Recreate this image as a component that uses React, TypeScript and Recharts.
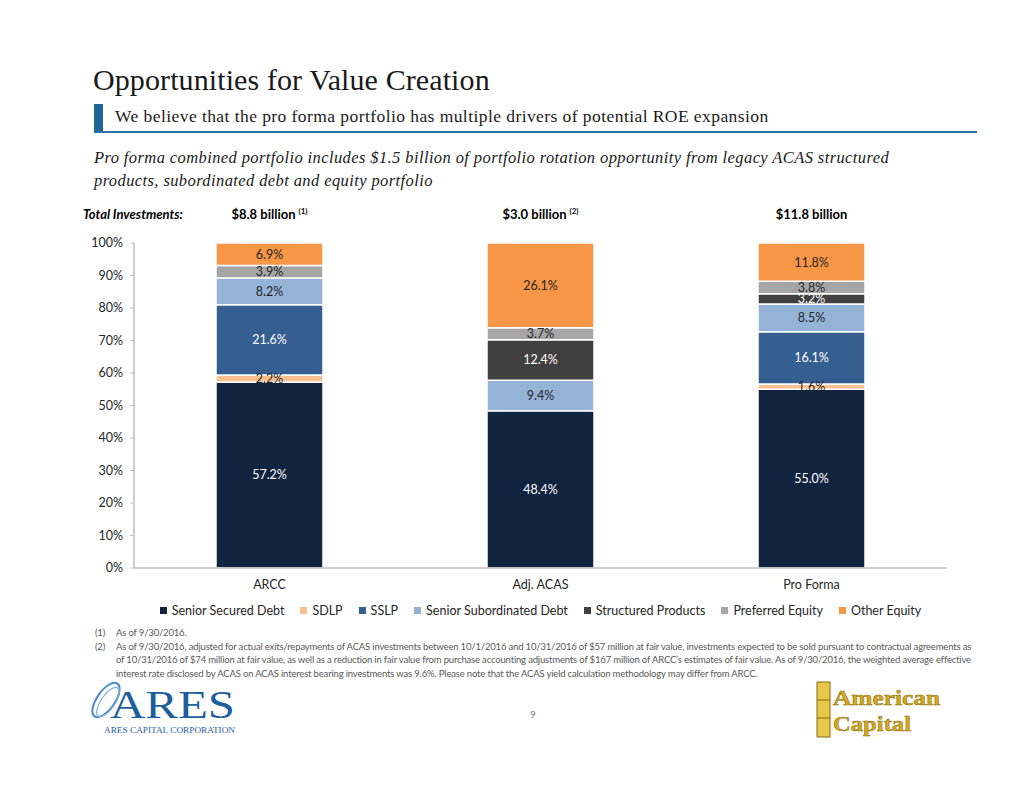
import React from 'react';
import { BarChart, Bar, XAxis, YAxis, LabelList } from 'recharts';

const categories = ['ARCC', 'Adj. ACAS', 'Pro Forma'];
const totals = ['$8.8 billion', '$3.0 billion', '$11.8 billion'];
const totalNotes = ['(1)', '(2)', ''];

const seniorSecured = [57.2, 48.4, 55.0];
const sdlp = [2.2, 0, 1.6];
const sslp = [21.6, 0, 16.1];
const seniorSub = [8.2, 9.4, 8.5];
const structured = [0, 12.4, 3.2];
const preferred = [3.9, 3.7, 3.8];
const otherEquity = [6.9, 26.1, 11.8];

const yTicks = [0, 10, 20, 30, 40, 50, 60, 70, 80, 90, 100];

const series = [
  { key: 'ssd', name: 'Senior Secured Debt', values: seniorSecured, color: '#10233F', text: '#FFFFFF' },
  { key: 'sdlp', name: 'SDLP', values: sdlp, color: '#FAC090', text: '#262626' },
  { key: 'sslp', name: 'SSLP', values: sslp, color: '#355E91', text: '#FFFFFF' },
  { key: 'ssub', name: 'Senior Subordinated Debt', values: seniorSub, color: '#95B3D7', text: '#262626' },
  { key: 'struct', name: 'Structured Products', values: structured, color: '#404040', text: '#FFFFFF' },
  { key: 'pref', name: 'Preferred Equity', values: preferred, color: '#A6A6A6', text: '#262626' },
  { key: 'other', name: 'Other Equity', values: otherEquity, color: '#F79646', text: '#262626' },
];

const data = categories.map((name, i) => {
  const row: Record<string, string | number> = { name };
  series.forEach((s) => {
    row[s.key] = s.values[i];
  });
  return row;
});

const chartFont = 'Lato, "Open Sans", sans-serif';
const serif = '"Liberation Serif", "DejaVu Serif", serif';

// plot area: x 134..947, y 243..568
const PLOT_LEFT = 134;
const PLOT_RIGHT = 947;
const bandW = (PLOT_RIGHT - PLOT_LEFT) / categories.length;

const fmt = (v: any) => (v ? `${Number(v).toFixed(1)}%` : '');

export default function App() {
  return (
    <div style={{ position: 'absolute', left: 0, top: 0, width: 1034, height: 799, background: '#fff', overflow: 'hidden' }}>
      {/* header */}
      <div style={{ position: 'absolute', left: 93, top: 63, fontFamily: serif, fontSize: 30, color: '#1a1a1a', letterSpacing: 0.1, whiteSpace: 'nowrap' }}>
        Opportunities for Value Creation
      </div>
      <div style={{ position: 'absolute', left: 94, top: 104, width: 9, height: 27, background: '#1F6596' }} />
      <div style={{ position: 'absolute', left: 94, top: 131, width: 883, height: 2, background: '#2A72A8' }} />
      <div style={{ position: 'absolute', left: 115, top: 106, fontFamily: serif, fontSize: 17.5, color: '#1a1a1a', letterSpacing: 0.43, whiteSpace: 'nowrap' }}>
        We believe that the pro forma portfolio has multiple drivers of potential ROE expansion
      </div>
      <div style={{ position: 'absolute', left: 94, top: 146, fontFamily: serif, fontStyle: 'italic', fontSize: 16.5, lineHeight: '23px', color: '#1a1a1a', letterSpacing: 0.4, whiteSpace: 'nowrap' }}>
        Pro forma combined portfolio includes $1.5 billion of portfolio rotation opportunity from legacy ACAS structured
        <br />
        products, subordinated debt and equity portfolio
      </div>

      {/* totals row */}
      <div style={{ position: 'absolute', left: 83, top: 206, fontFamily: chartFont, fontSize: 13, fontWeight: 700, fontStyle: 'italic', color: '#000' }}>
        Total Investments:
      </div>
      {totals.map((t, i) => (
        <div
          key={t}
          style={{
            position: 'absolute',
            left: PLOT_LEFT + bandW * i,
            width: bandW,
            top: 206,
            textAlign: 'center',
            fontFamily: chartFont,
            fontSize: 13,
            fontWeight: 700,
            color: '#000',
          }}
        >
          {t}
          {totalNotes[i] && <sup style={{ fontSize: 8, marginLeft: 3 }}>{totalNotes[i]}</sup>}
        </div>
      ))}

      <div style={{ position: 'absolute', left: 0, top: 230 }}>
        <BarChart
          width={1034}
          height={378}
          data={data}
          barSize={107}
          margin={{ top: 13, right: 1034 - PLOT_RIGHT, left: 0, bottom: 0 }}
          style={{ fontFamily: chartFont }}
        >
          <XAxis
            dataKey="name"
            height={40}
            axisLine={{ stroke: '#BFBFBF', strokeWidth: 1.5 }}
            tickLine={false}
            tickMargin={6}
            tick={{ fill: '#262626', fontSize: 12.5 }}
          />
          <YAxis
            width={PLOT_LEFT}
            domain={[0, 100]}
            ticks={yTicks}
            interval={0}
            tickFormatter={(v) => `${v}%`}
            axisLine={{ stroke: '#BFBFBF', strokeWidth: 1.5 }}
            tickLine={{ stroke: '#BFBFBF' }}
            tickSize={4}
            tickMargin={7}
            tick={{ fill: '#262626', fontSize: 12.5 }}
          />
          {series.map((s) => (
            <Bar
              key={s.key}
              dataKey={s.key}
              name={s.name}
              stackId="a"
              fill={s.color}
              stroke="#FFFFFF"
              strokeWidth={1.5}
              isAnimationActive={false}
            >
              <LabelList dataKey={s.key} position="center" formatter={fmt} fill={s.text} fontSize={12.5} />
            </Bar>
          ))}
        </BarChart>
      </div>

      {/* legend */}
      <div
        style={{
          position: 'absolute',
          left: PLOT_LEFT,
          width: PLOT_RIGHT - PLOT_LEFT,
          top: 603,
          display: 'flex',
          justifyContent: 'center',
          gap: 16,
          fontFamily: chartFont,
          fontSize: 12.5,
          color: '#262626',
          whiteSpace: 'nowrap',
        }}
      >
        {series.map((s) => (
          <div key={s.key} style={{ display: 'flex', alignItems: 'center' }}>
            <span style={{ display: 'inline-block', width: 7, height: 7, background: s.color, marginRight: 5 }} />
            {s.name}
          </div>
        ))}
      </div>

      {/* footnotes */}
      <div style={{ position: 'absolute', left: 95, top: 626, fontFamily: chartFont, fontSize: 9.5, lineHeight: '13.7px', color: '#595959', letterSpacing: -0.17 }}>
        <div style={{ display: 'flex' }}>
          <span style={{ width: 21 }}>(1)</span>
          <span>As of 9/30/2016.</span>
        </div>
        <div style={{ display: 'flex' }}>
          <span style={{ width: 21, flexShrink: 0 }}>(2)</span>
          <span style={{ width: 858 }}>
            As of 9/30/2016, adjusted for actual exits/repayments of ACAS investments between 10/1/2016 and 10/31/2016 of $57 million at fair value, investments expected to be sold pursuant to contractual agreements as of 10/31/2016 of $74 million at fair value, as well as a reduction in fair value from purchase accounting adjustments of $167 million of ARCC’s estimates of fair value. As of 9/30/2016, the weighted average effective interest rate disclosed by ACAS on ACAS interest bearing investments was 9.6%. Please note that the ACAS yield calculation methodology may differ from ARCC.
          </span>
        </div>
      </div>

      {/* page number */}
      <div style={{ position: 'absolute', left: 530, top: 708, fontFamily: chartFont, fontSize: 10, color: '#7F7F7F' }}>9</div>

      {/* ARES logo */}
      <svg style={{ position: 'absolute', left: 88, top: 678 }} width={160} height={60}>
        <ellipse cx={18} cy={22} rx={9} ry={20} transform="rotate(35 18 22)" fill="none" stroke="#4A8CC9" strokeWidth={2} />
        <ellipse cx={20} cy={24} rx={7} ry={17} transform="rotate(35 20 24)" fill="none" stroke="#7FB0DD" strokeWidth={1.2} />
        <text x={22} y={40} fontFamily={serif} fontSize={40} fill="#1D5E9E" textLength={125} lengthAdjust="spacingAndGlyphs">ARES</text>
        <text x={16} y={55} fontFamily={serif} fontSize={7.5} fill="#1D5E9E" textLength={131} lengthAdjust="spacingAndGlyphs">ARES CAPITAL CORPORATION</text>
      </svg>

      {/* American Capital logo */}
      <svg style={{ position: 'absolute', left: 815, top: 680 }} width={130} height={60}>
        <rect x={2} y={2} width={13} height={55} fill="#E8C74A" stroke="#8A6D10" strokeWidth={1} />
        <line x1={2} y1={20} x2={15} y2={20} stroke="#8A6D10" />
        <line x1={2} y1={38} x2={15} y2={38} stroke="#8A6D10" />
        <text x={18} y={25} fontFamily={serif} fontWeight={700} fontSize={22} fill="#D4A920" stroke="#8A6D10" strokeWidth={0.5} textLength={107} lengthAdjust="spacingAndGlyphs">American</text>
        <text x={18} y={51} fontFamily={serif} fontWeight={700} fontSize={22} fill="#D4A920" stroke="#8A6D10" strokeWidth={0.5} textLength={78} lengthAdjust="spacingAndGlyphs">Capital</text>
      </svg>
    </div>
  );
}
